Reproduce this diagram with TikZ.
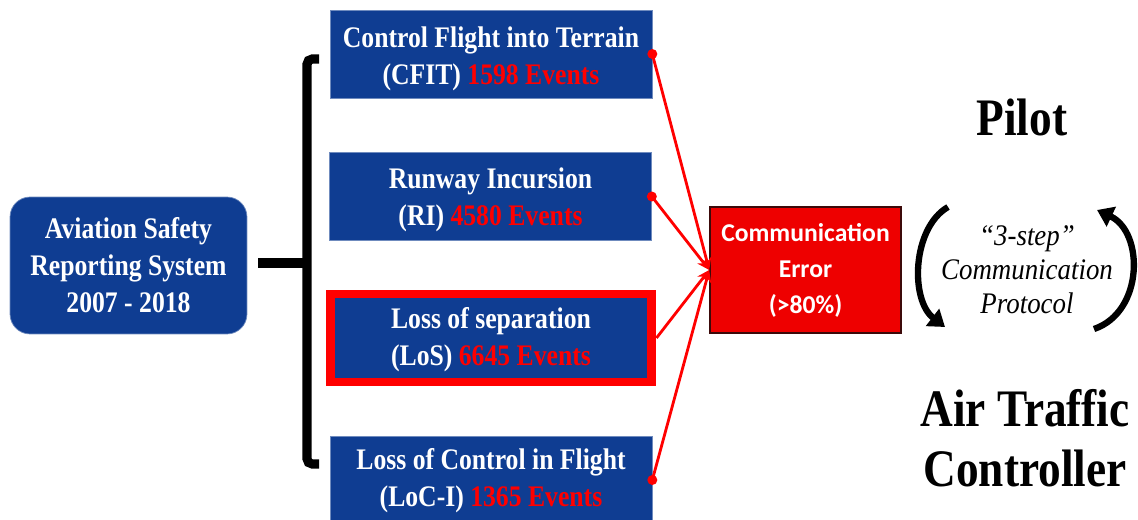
\documentclass[tikz,border=0pt]{standalone}
\usepackage{fontspec}
\setmainfont{Liberation Serif}
\newfontfamily\narrowserif[FakeStretch=0.86,
  BoldFont=Liberation Serif Bold,
  ItalicFont=Liberation Serif Italic]{Liberation Serif}
\newfontfamily\protofont[FakeStretch=0.9]{Liberation Serif Italic}
\newfontfamily\calib{Carlito}
\usetikzlibrary{arrows.meta}

\definecolor{navy}{RGB}{15,61,146}
\definecolor{alert}{RGB}{255,0,0}
\definecolor{errfill}{RGB}{238,0,0}
\definecolor{errline}{RGB}{60,10,10}

\tikzset{
  catbox/.style={fill=navy, draw=navy!60!white, line width=0.4pt,
    minimum width=6.44cm, minimum height=1.76cm, inner sep=0pt},
  cattext/.style={text=white, align=center, inner sep=0pt,
    font=\narrowserif\bfseries\fontsize{17}{21}\selectfont},
  sourcebox/.style={catbox, cattext, rounded corners=0.4cm,
    minimum width=4.74cm, minimum height=2.74cm},
  errbox/.style={fill=errfill, draw=errline, line width=0.9pt,
    minimum width=3.82cm, minimum height=2.52cm, inner sep=0pt,
    text=white, align=center,
    font=\calib\bfseries\fontsize{14.6}{20.5}\selectfont},
  bracket/.style={line width=5.2pt, rounded corners=3pt},
  conn/.style={draw=alert, line width=1.6pt,
    -{Stealth[length=7pt,width=6pt]}},
  dot/.style={fill=alert},
  role/.style={font=\narrowserif\bfseries\fontsize{30}{34}\selectfont, align=center},
  protocol/.style={font=\protofont\fontsize{17}{19.3}\selectfont, align=center},
  loop/.style={line width=3.6pt, -{Triangle[length=9pt,width=12pt]}},
}

\begin{document}
\begin{tikzpicture}[x=0.02cm, y=-0.02cm]
  \useasboundingbox (0,0) rectangle (1138,520);

  % reporting source
  \node[sourcebox] (asrs) at (128.5,265.5)
    {Aviation Safety\\Reporting System\\2007 - 2018};

  % event categories: boxes, then their two-line captions
  \node[catbox] (cfit) at (491,54) {};
  \node[catbox] (ri) at (490.5,196.5) {};
  \node[catbox, draw=alert, line width=5.1pt] (los) at (491,338) {};
  \node[catbox] (loc) at (491,480) {};

  \node[cattext] (cfit-t) at ([yshift=-0.09cm]cfit.center)
    {Control Flight into Terrain\\(CFIT) {\color{alert}1598 Events}};
  \node[cattext] (ri-t) at ([yshift=-0.07cm]ri.center)
    {Runway Incursion\\(RI) {\color{alert}4580 Events}};
  \node[cattext] (los-t) at ([yshift=-0.04cm]los.center)
    {Loss of separation\\(LoS) {\color{alert}6645 Events}};
  \node[cattext] (loc-t) at ([yshift=-0.02cm]loc.center)
    {Loss of Control in Flight\\(LoC-I) {\color{alert}1365 Events}};

  % bracket grouping the categories
  \coordinate (brtop) at (319,59);
  \coordinate (brbot) at (319,464);
  \coordinate (brmid) at (307,263);
  \coordinate (stem) at (258,263);
  \draw[bracket] (brtop) -- (307,59) -- (307,464) -- (brbot);
  \draw[line width=5.2pt] (stem) -- (brmid);

  % communication error
  \node[errbox] (err) at (805.5,270) {Communication\\Error\\(>80\%)};

  \foreach \b in {cfit,ri,los,loc}{
    \draw[conn] (\b.east) -- (err.west);
  }
  \fill[dot] (cfit.east) circle (5);
  \fill[dot] (ri.east) circle (5);
  \fill[dot] (loc.east) circle (5);

  % roles and protocol
  \node[role] (pilot) at (1022,117) {Pilot};
  \node[role] (atc) at (1025,438) {Air Traffic\\Controller};
  \node[protocol] (proto) at (1027,270)
    {“3-step”\\Communication\\Protocol};

  \coordinate (la) at (948,207);
  \coordinate (lb) at (945,327);
  \coordinate (ra) at (1094,329);
  \coordinate (rb) at (1097,210);
  \draw[loop] (la) .. controls (912,228) and (910,300) .. (lb);
  \draw[loop] (ra) .. controls (1144,312) and (1144,232) .. (rb);
\end{tikzpicture}
\end{document}
